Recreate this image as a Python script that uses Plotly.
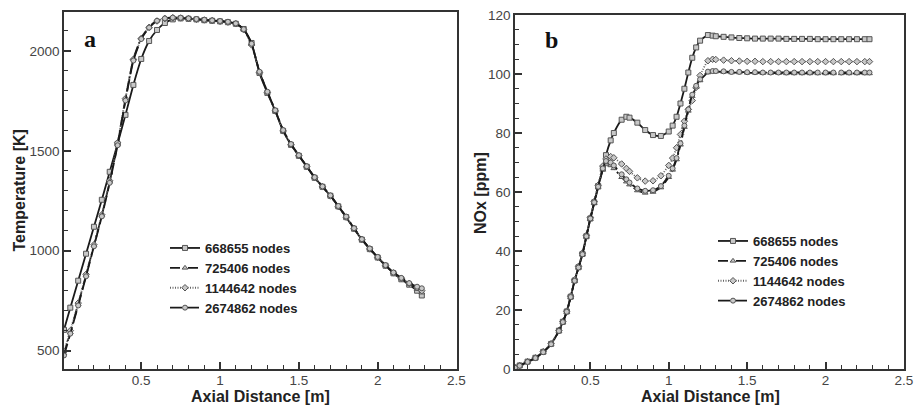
import plotly.graph_objects as go

# ---------------- data ----------------
series_names = ["668655 nodes", "725406 nodes", "1144642 nodes", "2674862 nodes"]

# Panel a: temperature [K] vs axial distance [m]
t_x = [0.01, 0.05, 0.1, 0.15, 0.2, 0.25, 0.3, 0.35, 0.4, 0.45,
       0.5, 0.55, 0.6, 0.65, 0.7, 0.75, 0.8, 0.85, 0.9, 0.95,
       1.0, 1.05, 1.1, 1.15, 1.2, 1.25, 1.3, 1.35, 1.4, 1.45,
       1.5, 1.55, 1.6, 1.65, 1.7, 1.75, 1.8, 1.85, 1.9, 1.95,
       2.0, 2.05, 2.1, 2.15, 2.2, 2.25, 2.28]
t_668655 = [604, 715, 850, 985, 1120, 1255, 1395, 1535, 1680, 1830,
            1960, 2050, 2105, 2140, 2158, 2163, 2161, 2158, 2154, 2151,
            2148, 2144, 2136, 2110, 2040, 1890, 1790, 1700, 1600, 1530,
            1475, 1420, 1365, 1320, 1275, 1222, 1168, 1110, 1055, 1008,
            966, 925, 887, 857, 830, 800, 776]
t_725406 = [485, 592, 732, 877, 1027, 1177, 1345, 1535, 1760, 1960,
            2065, 2120, 2152, 2164, 2168, 2166, 2163, 2159, 2155, 2152,
            2149, 2145, 2137, 2108, 2035, 1895, 1795, 1702, 1603, 1533,
            1477, 1422, 1367, 1321, 1276, 1223, 1170, 1112, 1057, 1010,
            968, 927, 890, 861, 834, 808, 790]
t_1144642 = [495, 600, 738, 882, 1030, 1180, 1350, 1540, 1762, 1958,
             2062, 2118, 2150, 2162, 2166, 2165, 2162, 2158, 2155, 2152,
             2148, 2144, 2136, 2106, 2030, 1892, 1792, 1700, 1600, 1531,
             1476, 1421, 1366, 1320, 1274, 1221, 1168, 1111, 1056, 1009,
             967, 926, 889, 862, 836, 815, 800]
t_2674862 = [476, 585, 726, 872, 1022, 1172, 1340, 1528, 1752, 1952,
             2060, 2117, 2151, 2163, 2167, 2166, 2163, 2160, 2156, 2153,
             2150, 2146, 2138, 2109, 2036, 1896, 1796, 1703, 1604, 1534,
             1478, 1423, 1368, 1322, 1277, 1224, 1171, 1113, 1058, 1011,
             969, 928, 891, 864, 838, 820, 812]

# Panel b: NOx [ppm] vs axial distance [m]
n_x = [0.02, 0.05, 0.1, 0.15, 0.2, 0.25, 0.3,
       0.325, 0.35, 0.375, 0.4, 0.425, 0.45, 0.475, 0.5, 0.525, 0.55,
       0.58, 0.6, 0.63, 0.65, 0.7, 0.73, 0.75,
       0.8, 0.85, 0.9, 0.95, 1.0,
       1.025, 1.05, 1.075, 1.1, 1.125, 1.15, 1.175, 1.2,
       1.25, 1.28, 1.3,
       1.35, 1.4, 1.45, 1.5, 1.55, 1.6, 1.65, 1.7, 1.75, 1.8,
       1.85, 1.9, 1.95, 2.0, 2.05, 2.1, 2.15, 2.2, 2.25, 2.28]
n_668655 = [0.5, 1.2, 2.5, 3.8, 5.8, 8.5, 13,
            16, 19.5, 24.5, 30, 34.5, 39, 45, 51, 56.5, 62,
            68, 72.5, 77.5, 80, 84.5, 85.5, 85.2,
            83.5, 81, 79.3, 79, 80.5,
            82.5, 85.5, 90, 95, 100.5, 105.5, 109, 111.3,
            113.2, 113, 112.8,
            112.6, 112.4, 112.2, 112.1, 112, 112, 112, 112, 111.9, 111.9,
            111.9, 111.9, 111.8, 111.8, 111.8, 111.8, 111.8, 111.8, 111.8, 111.8]
n_725406 = [0.4, 1.1, 2.4, 3.7, 5.7, 8.4, 12.8,
            15.8, 19.3, 24.3, 29.8, 34.3, 38.8, 44.8, 50.8, 56.2, 61.5,
            67.5, 69.5, 69, 68, 65, 63.5, 62.5,
            60.5, 59.7, 60, 61.5, 65,
            67.5, 71, 76, 82, 87.5, 92.5, 95.5, 97.8,
            100.5, 100.8, 100.8,
            100.7, 100.5, 100.5, 100.4, 100.4, 100.3, 100.3, 100.3, 100.2, 100.2,
            100.2, 100.2, 100.2, 100.2, 100.2, 100.2, 100.2, 100.2, 100.2, 100.2]
n_1144642 = [0.5, 1.2, 2.5, 3.8, 5.9, 8.6, 13.1,
             16.1, 19.6, 24.7, 30.2, 34.8, 39.3, 45.3, 51.3, 56.8, 62.3,
             68.8, 71.2, 72, 71.6, 69.5, 68, 67,
             64.8, 63.7, 63.8, 65.5, 69,
             71.5, 75, 79.5, 84, 88, 91, 95.5, 99.5,
             104.5, 105, 104.9,
             104.7, 104.5, 104.4, 104.3, 104.3, 104.2, 104.2, 104.2, 104.2, 104.2,
             104.2, 104.2, 104.2, 104.2, 104.2, 104.2, 104.2, 104.2, 104.2, 104.2]
n_2674862 = [0.4, 1.1, 2.4, 3.7, 5.7, 8.4, 12.9,
             15.9, 19.4, 24.4, 29.9, 34.4, 38.9, 45, 51, 56.5, 61.8,
             68, 70.5, 70, 69, 66, 64.3, 63.2,
             61.2, 60.4, 60.6, 62, 65.5,
             68, 71.5, 76.5, 82.5, 88, 93, 96, 98.2,
             100.8, 101, 101,
             100.9, 100.7, 100.7, 100.6, 100.6, 100.5, 100.5, 100.5, 100.5, 100.5,
             100.5, 100.5, 100.5, 100.5, 100.5, 100.5, 100.5, 100.5, 100.5, 100.5]

# ---------------- styles ----------------
dashes = ["solid", "10px,3px,2px,3px", "1px,1.5px", "12px,5px"]
symbols = ["square", "triangle-up", "diamond", "circle"]
line_colors = ["#1a1a1a", "#1a1a1a", "#666666", "#1a1a1a"]

fig = go.Figure()

temp_sets = [t_668655, t_725406, t_1144642, t_2674862]
for i, ys in enumerate(temp_sets):
    fig.add_trace(go.Scatter(
        x=t_x, y=ys, mode="lines+markers", name=series_names[i],
        line=dict(color=line_colors[i], width=1.8, dash=dashes[i], shape="spline", smoothing=0.5),
        marker=dict(symbol=symbols[i], size=5, color="#c8c8c8", line=dict(color="#555555", width=1)),
        xaxis="x", yaxis="y", legend="legend"))

nox_sets = [n_668655, n_725406, n_1144642, n_2674862]
for i, ys in enumerate(nox_sets):
    fig.add_trace(go.Scatter(
        x=n_x, y=ys, mode="lines+markers", name=series_names[i],
        line=dict(color=line_colors[i], width=1.8, dash=dashes[i], shape="spline", smoothing=0.5),
        marker=dict(symbol=symbols[i], size=5, color="#c8c8c8", line=dict(color="#555555", width=1)),
        xaxis="x2", yaxis="y2", legend="legend2"))

W, H = 916, 405
def px(x):
    return x / W
def py(y):
    return 1 - y / H

tickfont = dict(family="Liberation Sans, Arial", size=13.5, color="#444444")
axis_common = dict(showline=True, mirror=True, linecolor="#333333", linewidth=1.5,
                   ticks="inside", ticklen=7, tickwidth=1.5, tickcolor="#333333",
                   showgrid=False, zeroline=False, tickfont=tickfont, automargin=False)
minor_x = dict(dtick=0.1, ticklen=4, ticks="inside", tickcolor="#333333", tickwidth=1)

fig.update_layout(
    width=W, height=H, margin=dict(l=0, r=0, t=0, b=0, autoexpand=False),
    paper_bgcolor="white", plot_bgcolor="white",
    xaxis=dict(domain=[px(64), px(456.5)], range=[0.01, 2.5], tick0=0, dtick=0.5, anchor="y",
               minor=minor_x, ticklabelstandoff=-2, **axis_common),
    yaxis=dict(domain=[py(369), py(12)], range=[408, 2195], tick0=0, dtick=500, anchor="x",
               minor=dict(dtick=100, ticklen=4, ticks="inside", tickcolor="#333333", tickwidth=1),
               **axis_common),
    xaxis2=dict(domain=[px(515), px(904)], range=[0.02, 2.5], tick0=0, dtick=0.5, anchor="y2",
                minor=minor_x, ticklabelstandoff=-2, **axis_common),
    yaxis2=dict(domain=[py(369), py(15)], range=[0, 120], tick0=0, dtick=20, anchor="x2",
                minor=dict(dtick=5, ticklen=4, ticks="inside", tickcolor="#333333", tickwidth=1),
                **axis_common),
    legend=dict(x=px(165), y=py(233), xanchor="left", yanchor="top", bgcolor="rgba(0,0,0,0)",
                font=dict(family="Liberation Sans, Arial", size=13, color="#222222", weight="bold"),
                tracegroupgap=0),
    legend2=dict(x=px(713), y=py(226), xanchor="left", yanchor="top", bgcolor="rgba(0,0,0,0)",
                 font=dict(family="Liberation Sans, Arial", size=13, color="#222222", weight="bold"),
                 tracegroupgap=0),
    showlegend=True,
)

title_font = dict(family="Liberation Sans, Arial", size=16, color="#222222", weight="bold")
annotations = [
    dict(text="Axial Distance [m]", x=px(260), y=py(396.5), xref="paper", yref="paper",
         showarrow=False, font=title_font, xanchor="center", yanchor="middle"),
    dict(text="Axial Distance [m]", x=px(710), y=py(396.5), xref="paper", yref="paper",
         showarrow=False, font=title_font, xanchor="center", yanchor="middle"),
    dict(text="Temperature [K]", x=px(18.5), y=py(191), xref="paper", yref="paper", textangle=-90,
         showarrow=False, font=title_font, xanchor="center", yanchor="middle"),
    dict(text="NOx [ppm]", x=px(480), y=py(193), xref="paper", yref="paper", textangle=-90,
         showarrow=False, font=title_font, xanchor="center", yanchor="middle"),
    dict(text="a", x=px(90), y=py(39), xref="paper", yref="paper", showarrow=False,
         font=dict(family="Liberation Serif, Times New Roman", size=24, color="#111111", weight="bold"),
         xanchor="center", yanchor="middle"),
    dict(text="b", x=px(551), y=py(40), xref="paper", yref="paper", showarrow=False,
         font=dict(family="Liberation Serif, Times New Roman", size=24, color="#111111", weight="bold"),
         xanchor="center", yanchor="middle"),
]
fig.update_layout(annotations=annotations)

fig.write_html("out.html")
